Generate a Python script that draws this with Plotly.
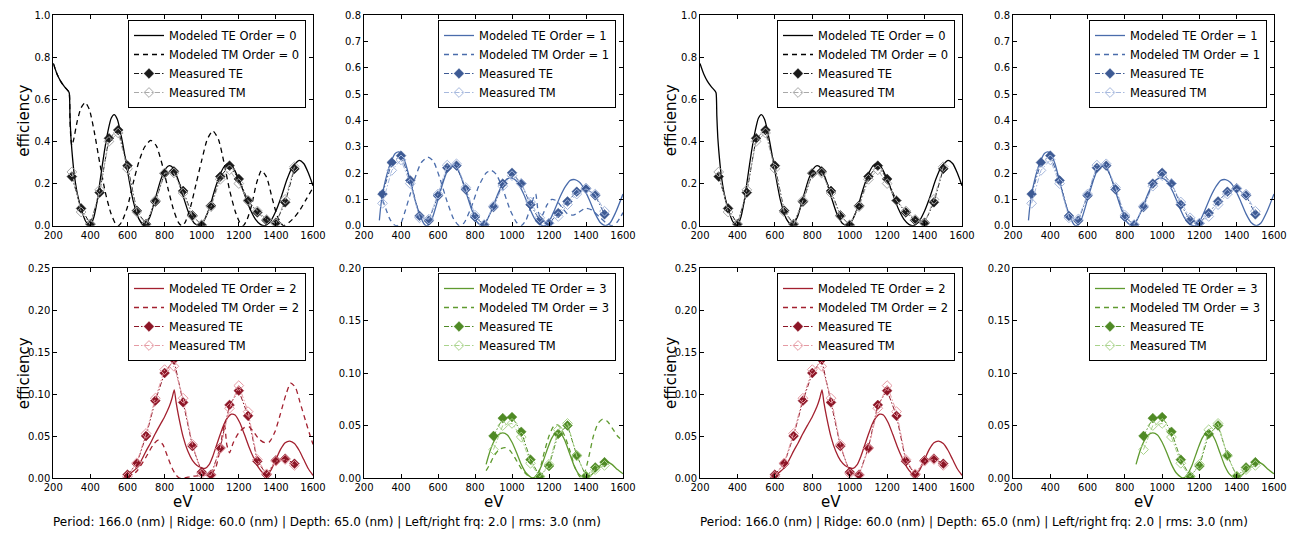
import plotly.graph_objects as go

# ---------------- data ----------------
meas_x01 = [300, 350, 400, 450, 500, 550, 600, 650, 700, 750, 800, 850, 900,
            950, 1000, 1050, 1100, 1150, 1200, 1250, 1300, 1350, 1400, 1450, 1500]
meas_x2 = [600, 650, 700, 750, 800, 850, 900, 950, 1000, 1050, 1100, 1150,
           1200, 1250, 1300, 1350, 1400, 1450, 1500]
meas_x3 = [900, 950, 1000, 1050, 1100, 1150, 1200, 1250, 1300, 1350, 1400, 1450, 1500]

# order 0
meas_te0 = [0.233, 0.082, 0.008, 0.157, 0.415, 0.454, 0.285, 0.071, 0.008, 0.114, 0.248,
            0.258, 0.165, 0.049, 0.003, 0.095, 0.233, 0.285, 0.222, 0.119, 0.063, 0.025,
            0.014, 0.111, 0.27]
meas_tm0 = [0.255, 0.065, 0.005, 0.17, 0.40, 0.44, 0.27, 0.065, 0.005, 0.12, 0.25, 0.25,
            0.155, 0.045, 0.005, 0.09, 0.22, 0.265, 0.20, 0.12, 0.07, 0.03, 0.01, 0.125, 0.28]
mod_te0_x = [200, 220, 240, 260, 280, 286, 290, 295, 300, 312, 330, 350, 375, 398, 415, 435,
             455, 475, 495, 512, 528, 545, 570, 600, 630, 660, 690, 720, 750, 780, 805, 825,
             845, 870, 900, 930, 960, 988, 1010, 1040, 1070, 1100, 1125, 1145, 1170, 1200,
             1230, 1260, 1290, 1318, 1340, 1370, 1400, 1430, 1460, 1490, 1525, 1550, 1575, 1600]
mod_te0_y = [0.77, 0.72, 0.685, 0.66, 0.64, 0.63, 0.52, 0.42, 0.36, 0.25, 0.15, 0.08, 0.02,
             0.0, 0.03, 0.11, 0.23, 0.35, 0.45, 0.51, 0.527, 0.505, 0.41, 0.26, 0.12, 0.035,
             0.0, 0.04, 0.13, 0.22, 0.27, 0.285, 0.275, 0.225, 0.14, 0.06, 0.012, 0.0, 0.02,
             0.08, 0.17, 0.245, 0.285, 0.295, 0.275, 0.22, 0.15, 0.08, 0.03, 0.005, 0.0, 0.02,
             0.07, 0.14, 0.22, 0.28, 0.31, 0.295, 0.25, 0.19]
mod_tm0_x = [200, 220, 240, 260, 280, 286, 290, 295, 300, 310, 330, 350, 372, 395, 420, 450,
             480, 510, 535, 552, 570, 600, 630, 660, 690, 725, 755, 790, 820, 850, 875, 892,
             910, 940, 970, 1000, 1030, 1060, 1090, 1120, 1150, 1180, 1205, 1224, 1245, 1270,
             1295, 1322, 1350, 1380, 1410, 1440, 1470, 1500, 1530, 1560, 1600]
mod_tm0_y = [0.77, 0.72, 0.685, 0.66, 0.64, 0.63, 0.5, 0.41, 0.38, 0.41, 0.5, 0.56, 0.585,
             0.55, 0.45, 0.3, 0.16, 0.06, 0.01, 0.0, 0.02, 0.09, 0.2, 0.3, 0.37, 0.405, 0.38,
             0.28, 0.17, 0.07, 0.015, 0.0, 0.015, 0.09, 0.2, 0.31, 0.41, 0.45, 0.41, 0.3, 0.17,
             0.07, 0.015, 0.0, 0.03, 0.1, 0.2, 0.262, 0.23, 0.13, 0.04, 0.0, 0.015, 0.04, 0.075,
             0.12, 0.18]

# order 1
meas_te1 = [0.12, 0.24, 0.266, 0.172, 0.037, 0.019, 0.114, 0.22, 0.228, 0.138, 0.033, 0.003,
            0.071, 0.16, 0.201, 0.16, 0.08, 0.02, 0.009, 0.048, 0.092, 0.129, 0.142, 0.115, 0.043]
meas_tm1 = [0.085, 0.21, 0.25, 0.16, 0.03, 0.025, 0.12, 0.23, 0.235, 0.145, 0.04, 0.005,
            0.075, 0.15, 0.19, 0.16, 0.09, 0.03, 0.01, 0.035, 0.08, 0.12, 0.14, 0.12, 0.055]
mod_te1_x = [283, 290, 300, 315, 330, 350, 370, 388, 405, 425, 450, 475, 500, 520, 535, 550,
             570, 600, 630, 655, 678, 700, 725, 750, 780, 810, 837, 860, 890, 920, 950, 980,
             1005, 1030, 1060, 1090, 1120, 1150, 1177, 1200, 1230, 1260, 1290, 1315, 1340,
             1365, 1390, 1420, 1450, 1480, 1505, 1530, 1560, 1600]
mod_te1_y = [0.02, 0.07, 0.12, 0.17, 0.21, 0.25, 0.275, 0.28, 0.27, 0.235, 0.17, 0.1, 0.045,
             0.012, 0.0, 0.005, 0.03, 0.1, 0.17, 0.215, 0.228, 0.22, 0.185, 0.13, 0.065, 0.015,
             0.0, 0.015, 0.06, 0.115, 0.16, 0.18, 0.18, 0.165, 0.125, 0.075, 0.03, 0.005, 0.0,
             0.015, 0.06, 0.11, 0.15, 0.172, 0.175, 0.165, 0.14, 0.095, 0.045, 0.01, 0.0, 0.01,
             0.05, 0.12]
mod_tm1_x = [285, 300, 320, 340, 360, 380, 400, 420, 450, 480, 510, 545, 575, 610, 650, 685,
             715, 740, 780, 820, 860, 888, 915, 950, 990, 1025, 1050, 1075, 1100, 1118, 1128,
             1140, 1152, 1165, 1190, 1215, 1240, 1270, 1300, 1330, 1360, 1395, 1430, 1470,
             1510, 1540, 1570, 1600]
mod_tm1_y = [0.13, 0.1, 0.06, 0.025, 0.005, 0.0, 0.01, 0.05, 0.12, 0.19, 0.24, 0.26, 0.245,
             0.18, 0.09, 0.025, 0.0, 0.01, 0.07, 0.15, 0.2, 0.21, 0.195, 0.14, 0.06, 0.012,
             0.0, 0.02, 0.07, 0.11, 0.12, 0.06, 0.03, 0.04, 0.08, 0.1, 0.095, 0.07, 0.045, 0.04,
             0.05, 0.066, 0.06, 0.035, 0.01, 0.0, 0.015, 0.05]

# order 2
meas_te2 = [0.004, 0.017, 0.05, 0.092, 0.125, 0.141, 0.09, 0.038, 0.007, 0.004, 0.036,
            0.087, 0.104, 0.074, 0.02, 0.004, 0.021, 0.023, 0.017]
meas_tm2 = [0.002, 0.018, 0.053, 0.095, 0.129, 0.133, 0.095, 0.04, 0.005, 0.003, 0.035,
            0.083, 0.11, 0.079, 0.022, 0.005, 0.02, 0.022, 0.015]
mod_te2_x = [575, 600, 625, 650, 675, 700, 725, 750, 775, 800, 825, 840, 852, 862, 877, 900,
             925, 950, 975, 1000, 1018, 1040, 1060, 1080, 1100, 1120, 1140, 1160, 1180, 1205,
             1230, 1255, 1280, 1305, 1330, 1350, 1375, 1400, 1425, 1450, 1475, 1500, 1525,
             1550, 1575, 1600]
mod_te2_y = [0.0, 0.003, 0.007, 0.012, 0.021, 0.032, 0.042, 0.053, 0.063, 0.073, 0.085,
             0.095, 0.105, 0.09, 0.072, 0.049, 0.032, 0.021, 0.015, 0.012, 0.0115, 0.016,
             0.026, 0.039, 0.052, 0.064, 0.072, 0.076, 0.075, 0.066, 0.052, 0.037, 0.024,
             0.013, 0.006, 0.0035, 0.01, 0.022, 0.034, 0.042, 0.044, 0.041, 0.033, 0.022,
             0.011, 0.003]
mod_tm2_x = [600, 650, 700, 740, 765, 790, 815, 840, 860, 880, 900, 950, 1000, 1050, 1075,
             1095, 1110, 1123, 1135, 1150, 1170, 1200, 1230, 1255, 1280, 1310, 1340, 1365,
             1395, 1425, 1455, 1480, 1505, 1530, 1560, 1585, 1600]
mod_tm2_y = [0.0, 0.008, 0.025, 0.04, 0.045, 0.04, 0.026, 0.012, 0.004, 0.0, 0.0, 0.002,
             0.003, 0.005, 0.012, 0.03, 0.05, 0.065, 0.04, 0.03, 0.042, 0.054, 0.06, 0.061,
             0.055, 0.046, 0.042, 0.043, 0.055, 0.077, 0.1, 0.113, 0.108, 0.09, 0.068, 0.05,
             0.04]

# order 3
meas_te3 = [0.04, 0.057, 0.058, 0.044, 0.0175, 0.0016, 0.0114, 0.042, 0.05, 0.0216,
            0.0016, 0.01, 0.015]
meas_tm3 = [0.027, 0.05, 0.052, 0.039, 0.014, 0.001, 0.013, 0.046, 0.052, 0.021, 0.002,
            0.008, 0.012]
mod_te3_x = [860, 880, 900, 925, 950, 975, 1000, 1025, 1050, 1075, 1100, 1112, 1130, 1160,
             1190, 1215, 1240, 1260, 1285, 1310, 1335, 1360, 1385, 1400, 1430, 1460, 1490,
             1512, 1540, 1570, 1600]
mod_te3_y = [0.013, 0.025, 0.034, 0.041, 0.043, 0.041, 0.034, 0.024, 0.013, 0.005, 0.001,
             0.0, 0.002, 0.012, 0.027, 0.038, 0.044, 0.043, 0.036, 0.024, 0.012, 0.004,
             0.0005, 0.0, 0.003, 0.009, 0.014, 0.0155, 0.013, 0.008, 0.004]
mod_tm3_x = [860, 880, 900, 930, 962, 990, 1020, 1050, 1080, 1105, 1126, 1150, 1175, 1200,
             1220, 1238, 1258, 1285, 1315, 1340, 1368, 1390, 1415, 1440, 1465, 1490, 1515,
             1540, 1570, 1600]
mod_tm3_y = [0.007, 0.013, 0.02, 0.027, 0.029, 0.026, 0.018, 0.009, 0.003, 0.0, 0.0, 0.008,
             0.025, 0.04, 0.048, 0.051, 0.049, 0.04, 0.025, 0.01, 0.001, 0.004, 0.02, 0.04,
             0.052, 0.056, 0.054, 0.048, 0.04, 0.035]

orders = [0, 1, 2, 3]
footnote = "Period: 166.0 (nm) | Ridge: 60.0 (nm) | Depth: 65.0 (nm) | Left/right frq: 2.0 | rms: 3.0 (nm)"
x_ticks = [200, 400, 600, 800, 1000, 1200, 1400, 1600]

ORDER_DATA = [
    dict(te=(mod_te0_x, mod_te0_y), tm=(mod_tm0_x, mod_tm0_y), mx=meas_x01, mte=meas_te0, mtm=meas_tm0),
    dict(te=(mod_te1_x, mod_te1_y), tm=(mod_tm1_x, mod_tm1_y), mx=meas_x01, mte=meas_te1, mtm=meas_tm1),
    dict(te=(mod_te2_x, mod_te2_y), tm=(mod_tm2_x, mod_tm2_y), mx=meas_x2, mte=meas_te2, mtm=meas_tm2),
    dict(te=(mod_te3_x, mod_te3_y), tm=(mod_tm3_x, mod_tm3_y), mx=meas_x3, mte=meas_te3, mtm=meas_tm3),
]

# ---------------- styling ----------------
MODEL_COL = ['#000000', '#4a6cab', '#a3202f', '#5f9a2f']
TE_COL = ['#1a1a1a', '#3d5a94', '#8c1526', '#4f8a25']
TM_COL = ['#a8a8a8', '#a6b8dd', '#e59aa3', '#a9d38b']
YRANGE = [[0, 1.0], [0, 0.8], [0, 0.25], [0, 0.2]]
YDTICK = [0.2, 0.1, 0.05, 0.05]
YFMT = ['.1f', '.1f', '.2f', '.2f']

W, H = 1292, 533
COLS = [(53.3, 313), (364, 623), (700, 962), (1013, 1274)]
ROWS = [(15, 225.7), (268, 478)]
FONT = 'DejaVu Sans'

fig = go.Figure()
layout = dict(width=W, height=H, margin=dict(l=0, r=0, t=0, b=0, autoexpand=False),
              paper_bgcolor='white', plot_bgcolor='white', showlegend=True,
              font=dict(family=FONT, color='black'))
annotations = []

for g in range(2):
    for o in orders:
        p = g * 4 + o
        k = p + 1
        col = COLS[2 * g + (o % 2)]
        row = ROWS[o // 2]
        xs = 'x' if k == 1 else f'x{k}'
        ys = 'y' if k == 1 else f'y{k}'
        lg = 'legend' if k == 1 else f'legend{k}'
        d = ORDER_DATA[o]
        common = dict(xaxis=xs, yaxis=ys, legend=lg)
        fig.add_trace(go.Scatter(x=d['te'][0], y=d['te'][1], mode='lines',
                                 name=f'Modeled TE Order = {o}',
                                 line=dict(color=MODEL_COL[o], width=1.3, shape='spline', smoothing=0.6),
                                 **common))
        if g == 0:
            tmx, tmy = d['tm']
        else:
            tmx, tmy = [None], [None]
        fig.add_trace(go.Scatter(x=tmx, y=tmy, mode='lines',
                                 name=f'Modeled TM Order = {o}',
                                 line=dict(color=MODEL_COL[o], width=1.3, dash='5px,4px',
                                           shape='spline', smoothing=0.6),
                                 **common))
        fig.add_trace(go.Scatter(x=d['mx'], y=d['mte'], mode='lines+markers',
                                 name='Measured TE',
                                 line=dict(color=TE_COL[o], width=1, dash='5px,2px,1.5px,2px'),
                                 marker=dict(symbol='diamond', size=7.5, color=TE_COL[o],
                                             line=dict(color=TE_COL[o], width=0.5)),
                                 **common))
        fig.add_trace(go.Scatter(x=d['mx'], y=d['mtm'], mode='lines+markers',
                                 name='Measured TM',
                                 line=dict(color=TM_COL[o], width=1, dash='5px,2px,1.5px,2px'),
                                 marker=dict(symbol='diamond-open', size=7.5, color=TM_COL[o],
                                             line=dict(color=TM_COL[o], width=1)),
                                 **common))
        axcommon = dict(showline=True, linecolor='black', linewidth=1, mirror='ticks',
                        ticks='inside', ticklen=4, tickcolor='black', tickwidth=1,
                        showgrid=False, zeroline=False, automargin=False,
                        tickfont=dict(family=FONT, size=10, color='black'))
        layout['xaxis' if k == 1 else f'xaxis{k}'] = dict(
            domain=[col[0] / W, col[1] / W], anchor=ys, range=[200, 1600],
            tickvals=x_ticks, ticktext=[str(v) for v in x_ticks], **axcommon)
        layout['yaxis' if k == 1 else f'yaxis{k}'] = dict(
            domain=[1 - row[1] / H, 1 - row[0] / H], anchor=xs, range=YRANGE[o],
            dtick=YDTICK[o], tick0=0, tickformat=YFMT[o], **axcommon)
        layout[lg] = dict(x=(col[1] - 7) / W, y=1 - (row[0] + 5) / H,
                          xanchor='right', yanchor='top', bgcolor='white',
                          bordercolor='black', borderwidth=1,
                          font=dict(family=FONT, size=11.5, color='black'),
                          tracegroupgap=0, itemwidth=30)
        if o % 2 == 0:
            annotations.append(dict(text='efficiency', textangle=-90, xref='paper', yref='paper',
                                    x=(col[0] - 29) / W, y=1 - (row[0] + row[1]) / 2 / H,
                                    showarrow=False, xanchor='center', yanchor='middle',
                                    font=dict(family=FONT, size=15, color='black')))
        if o >= 2:
            annotations.append(dict(text='eV', xref='paper', yref='paper',
                                    x=(col[0] + col[1]) / 2 / W, y=1 - 502 / H,
                                    showarrow=False, xanchor='center', yanchor='middle',
                                    font=dict(family=FONT, size=15, color='black')))
    annotations.append(dict(text=footnote, xref='paper', yref='paper',
                            x=(COLS[2 * g][0] - 2) / W, y=1 - 522 / H, showarrow=False,
                            xanchor='left', yanchor='middle',
                            font=dict(family=FONT, size=12, color='black')))

layout['annotations'] = annotations
fig.update_layout(**layout)
fig.write_html('out.html', config={'displayModeBar': False},
               post_script="document.body.style.margin='0';document.body.style.overflow='hidden';")
